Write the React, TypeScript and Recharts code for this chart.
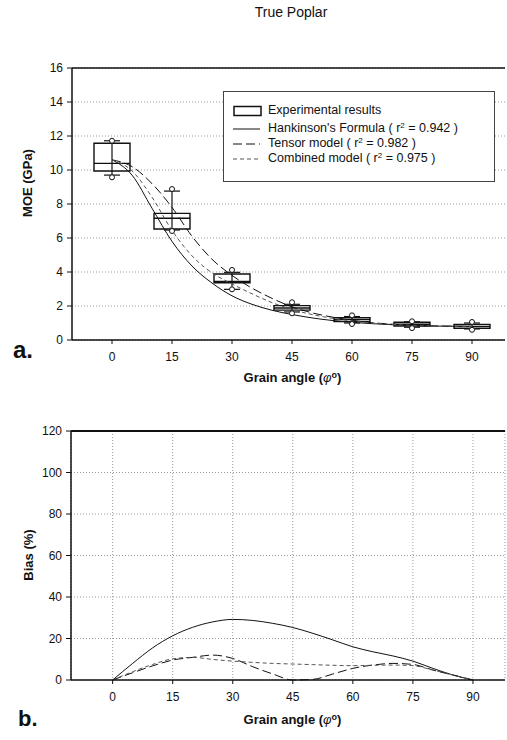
import React from 'react';
import {
  ComposedChart,
  LineChart,
  Line,
  XAxis,
  YAxis,
  CartesianGrid,
  ReferenceArea,
  ReferenceLine,
  ReferenceDot,
  Legend,
} from 'recharts';

// model curves (MOE, GPa) read every 5 degrees
const angles = [0, 5, 10, 15, 20, 25, 30, 35, 40, 45, 50, 55, 60, 65, 70, 75, 80, 85, 90];
const hankinsonMOE = [10.6, 9.7, 7.75, 5.8, 4.35, 3.35, 2.6, 2.1, 1.75, 1.5, 1.3, 1.15, 1.04, 0.96, 0.9, 0.85, 0.82, 0.81, 0.8];
const tensorMOE = [10.6, 10.2, 9.2, 7.8, 6.1, 4.75, 3.8, 3.05, 2.45, 1.95, 1.6, 1.35, 1.16, 1.02, 0.93, 0.87, 0.83, 0.81, 0.8];
const combinedMOE = [10.6, 9.95, 8.4, 6.45, 4.95, 3.95, 3.3, 2.72, 2.2, 1.8, 1.5, 1.28, 1.12, 1.0, 0.92, 0.86, 0.82, 0.81, 0.8];

// experimental box plots
const boxAngles = [0, 15, 30, 45, 60, 75, 90];
const boxLow = [9.94, 6.53, 3.37, 1.76, 1.08, 0.82, 0.69];
const boxMedian = [10.39, 7.16, 3.45, 1.88, 1.2, 0.93, 0.8];
const boxHigh = [11.57, 7.45, 3.88, 2.02, 1.31, 1.04, 0.92];
const whiskerLow = [9.7, 6.47, 2.98, 1.65, 1.0, 0.75, 0.65];
const whiskerHigh = [11.72, 8.76, 3.98, 2.1, 1.38, 1.07, 1.0];
const outlierLow = [9.57, 6.41, 2.98, 1.57, 0.94, 0.7, 0.6];
const outlierHigh = [11.72, 8.88, 4.12, 2.22, 1.45, 1.1, 1.06];

// bias (%) read every 5 degrees
const hankinsonBias = [0, 8, 15.5, 21.3, 25.4, 28, 29.2, 28.7, 27.3, 25.3, 22.5, 19.3, 16, 13.6, 11.6, 9.1, 5.6, 2.4, 0];
const tensorBias = [0, 3.5, 6.8, 9.6, 10.9, 12, 10.4, 6.4, 2.9, 0, 0.3, 2.9, 5.6, 7.2, 8, 7.5, 4.8, 2.4, 0];
const combinedBias = [0, 4, 7.5, 10.2, 10.9, 9.9, 9.1, 8.5, 8, 7.7, 7.4, 7.1, 6.9, 7.1, 7.2, 6.9, 4.8, 2.4, 0];

const xTicks = [0, 15, 30, 45, 60, 75, 90];
const moeTicks = [0, 2, 4, 6, 8, 10, 12, 14, 16];
const biasTicks = [0, 20, 40, 60, 80, 100, 120];

const seriesNames = ["Hankinson's Formula", 'Tensor model', 'Combined model'];
const rSquared = ['0.942', '0.982', '0.975'];

const FONT = 'Arial, "Liberation Sans", sans-serif';
const INK = '#111';
const BOX_HALF = 4.5;
const CAP_HALF = 2;

const moeData = angles.map((a, i) => ({
  angle: a,
  hankinson: hankinsonMOE[i],
  tensor: tensorMOE[i],
  combined: combinedMOE[i],
}));

const biasData = angles.map((a, i) => ({
  angle: a,
  hankinson: hankinsonBias[i],
  tensor: tensorBias[i],
  combined: combinedBias[i],
}));

const tickStyle = { fontSize: 12, fill: INK, fontFamily: FONT };
const dashes = ['', '9 4', '4 3'];
const lineColors = [INK, INK, '#555'];

const abs = (style: React.CSSProperties): React.CSSProperties => ({
  position: 'absolute',
  fontFamily: FONT,
  color: INK,
  lineHeight: 1,
  whiteSpace: 'nowrap',
  ...style,
});

const LegendBox = () => (
  <div
    style={{
      width: 272,
      height: 91,
      boxSizing: 'border-box',
      border: '1px solid #444',
      background: '#fff',
      position: 'relative',
      fontFamily: FONT,
      fontSize: 12.5,
      color: INK,
    }}
  >
    <svg width={30} height={12} style={{ position: 'absolute', left: 9, top: 13 }}>
      <rect x={1} y={1.5} width={27} height={9} fill="#fff" stroke={INK} strokeWidth={1.5} />
    </svg>
    <div style={{ position: 'absolute', left: 44, top: 12, lineHeight: 1 }}>Experimental results</div>
    {seriesNames.map((name, i) => (
      <React.Fragment key={name}>
        <svg width={30} height={6} style={{ position: 'absolute', left: 9, top: 34 + i * 15.2 }}>
          <line x1={0} y1={3} x2={27} y2={3} stroke={lineColors[i]} strokeWidth={1} strokeDasharray={dashes[i]} />
        </svg>
        <div style={{ position: 'absolute', left: 44, top: 30 + i * 15.2, lineHeight: 1 }}>
          {name} ( r<sup style={{ fontSize: 8, verticalAlign: 'top', lineHeight: 1 }}>2</sup> = {rSquared[i]} )
        </div>
      </React.Fragment>
    ))}
  </div>
);

const AxisTitle = ({ top, left }: { top: number; left: number }) => (
  <div style={abs({ top, left, fontSize: 13, fontWeight: 'bold', transform: 'translateX(-50%)' })}>
    Grain angle (<i style={{ fontWeight: 'normal' }}>φ</i>
    <sup style={{ fontSize: 9, verticalAlign: 'top', lineHeight: 1 }}>o</sup>)
  </div>
);

export default function App() {
  return (
    <div style={{ position: 'absolute', left: 0, top: 0, width: 507, height: 740, background: '#fff' }}>
      <div style={abs({ top: 5, left: 291, fontSize: 14, transform: 'translateX(-50%)' })}>True Poplar</div>

      <div style={{ position: 'absolute', left: 0, top: 0 }}>
        <ComposedChart width={507} height={370} data={moeData} margin={{ top: 68, right: 2, left: 0, bottom: 0 }}>
          <CartesianGrid vertical={false} strokeDasharray="1 2" stroke="#999" />
          <XAxis
            dataKey="angle"
            type="number"
            domain={[-10, 98.25]}
            ticks={xTicks}
            allowDataOverflow
            height={30}
            tickSize={4}
            tickMargin={8}
            tick={tickStyle}
            axisLine={{ stroke: INK, strokeWidth: 1.5 }}
            tickLine={{ stroke: INK }}
          />
          <YAxis
            type="number"
            domain={[0, 16]}
            ticks={moeTicks}
            width={72}
            tickSize={5}
            tickMargin={4}
            tick={tickStyle}
            axisLine={{ stroke: INK, strokeWidth: 1.5 }}
            tickLine={{ stroke: INK }}
          />
          <ReferenceLine y={16} stroke={INK} strokeWidth={1.5} />
          {boxAngles.map((a, i) => (
            <React.Fragment key={a}>
              <ReferenceLine segment={[{ x: a, y: whiskerLow[i] }, { x: a, y: whiskerHigh[i] }]} stroke={INK} strokeWidth={1.2} />
              <ReferenceLine segment={[{ x: a - CAP_HALF, y: whiskerLow[i] }, { x: a + CAP_HALF, y: whiskerLow[i] }]} stroke={INK} strokeWidth={1.2} />
              <ReferenceLine segment={[{ x: a - CAP_HALF, y: whiskerHigh[i] }, { x: a + CAP_HALF, y: whiskerHigh[i] }]} stroke={INK} strokeWidth={1.2} />
              <ReferenceArea x1={a - BOX_HALF} x2={a + BOX_HALF} y1={boxLow[i]} y2={boxHigh[i]} fill="#fff" fillOpacity={1} stroke={INK} strokeWidth={1.4} />
              <ReferenceLine segment={[{ x: a - BOX_HALF, y: boxMedian[i] }, { x: a + BOX_HALF, y: boxMedian[i] }]} stroke={INK} strokeWidth={1.4} />
              <ReferenceDot x={a} y={outlierLow[i]} r={2.5} fill="#fff" stroke={INK} strokeWidth={1} />
              <ReferenceDot x={a} y={outlierHigh[i]} r={2.5} fill="#fff" stroke={INK} strokeWidth={1} />
            </React.Fragment>
          ))}
          <Line dataKey="hankinson" type="monotone" stroke={lineColors[0]} strokeWidth={1} dot={false} isAnimationActive={false} />
          <Line dataKey="tensor" type="monotone" stroke={lineColors[1]} strokeWidth={1} strokeDasharray={dashes[1]} dot={false} isAnimationActive={false} />
          <Line dataKey="combined" type="monotone" stroke={lineColors[2]} strokeWidth={1} strokeDasharray={dashes[2]} dot={false} isAnimationActive={false} />
          <Legend
            layout="horizontal"
            verticalAlign="middle"
            align="center"
            content={() => <LegendBox />}
            wrapperStyle={{ position: 'absolute', left: 223, top: 91, width: 272, height: 91 }}
          />
        </ComposedChart>
      </div>

      <div style={abs({ top: 183, left: 27, fontSize: 13, fontWeight: 'bold', transform: 'translate(-50%, -50%) rotate(-90deg)' })}>
        MOE (GPa)
      </div>
      <AxisTitle top={370.5} left={292.5} />
      <div style={abs({ top: 338, left: 13, fontSize: 24, fontWeight: 'bold' })}>a.</div>

      <div style={{ position: 'absolute', left: 0, top: 400 }}>
        <LineChart width={507} height={310} data={biasData} margin={{ top: 31, right: 2, left: 0, bottom: 0 }}>
          <CartesianGrid strokeDasharray="1 2" stroke="#999" />
          <XAxis
            dataKey="angle"
            type="number"
            domain={[-10.4, 98]}
            ticks={xTicks}
            allowDataOverflow
            height={30}
            tickSize={4}
            tickMargin={8}
            tick={tickStyle}
            axisLine={{ stroke: INK, strokeWidth: 1.5 }}
            tickLine={{ stroke: INK }}
          />
          <YAxis
            type="number"
            domain={[0, 120]}
            ticks={biasTicks}
            width={71}
            tickSize={5}
            tickMargin={4}
            tick={tickStyle}
            axisLine={{ stroke: INK, strokeWidth: 1.5 }}
            tickLine={{ stroke: INK }}
          />
          <ReferenceLine y={120} stroke={INK} strokeWidth={1.8} />
          <Line dataKey="hankinson" type="monotone" stroke={lineColors[0]} strokeWidth={1} dot={false} isAnimationActive={false} />
          <Line dataKey="tensor" type="monotone" stroke={lineColors[1]} strokeWidth={1} strokeDasharray={dashes[1]} dot={false} isAnimationActive={false} />
          <Line dataKey="combined" type="monotone" stroke={lineColors[2]} strokeWidth={1} strokeDasharray={dashes[2]} dot={false} isAnimationActive={false} />
        </LineChart>
      </div>

      <div style={abs({ top: 555, left: 28, fontSize: 13, fontWeight: 'bold', transform: 'translate(-50%, -50%) rotate(-90deg)' })}>
        Bias (%)
      </div>
      <AxisTitle top={713} left={292.5} />
      <div style={abs({ top: 708, left: 18, fontSize: 22, fontWeight: 'bold' })}>b.</div>
    </div>
  );
}
